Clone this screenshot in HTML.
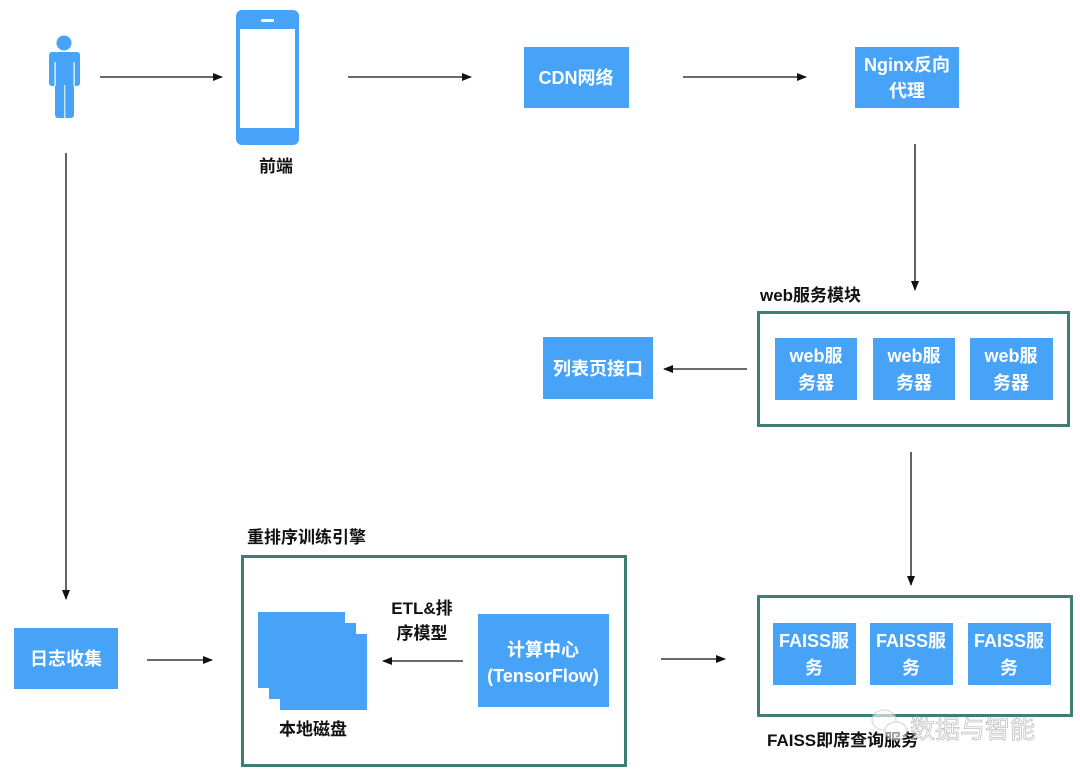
<!DOCTYPE html>
<html><head><meta charset="utf-8"><style>
html,body{margin:0;padding:0;background:#fff;}
svg{display:block;}
text{font-family:"Liberation Sans","Noto Sans CJK SC",sans-serif;font-weight:bold;}
.w{fill:#fff;font-size:18px;}
.k{fill:#111;font-size:17px;}
</style></head><body>
<svg width="1080" height="776" viewBox="0 0 1080 776" xmlns="http://www.w3.org/2000/svg">
<defs>
<marker id="a" markerWidth="10" markerHeight="8" refX="9" refY="4" orient="auto" markerUnits="userSpaceOnUse">
<path d="M0,0 L10,4 L0,8 z" fill="#111"/></marker>
</defs>
<g fill="#46a3f8">
<circle cx="64" cy="43" r="7.5"/>
<rect x="55" y="52" width="19" height="34" rx="3"/>
<rect x="55" y="60" width="19" height="58" rx="3"/>
<rect x="49" y="52" width="10" height="34" rx="3"/>
<rect x="70" y="52" width="10" height="34" rx="3"/>
<rect x="236" y="10" width="63" height="135" rx="6"/>
</g>
<rect x="240" y="29" width="55" height="99" fill="#fff"/>
<rect x="261" y="19" width="13" height="3" rx="1.5" fill="#fff"/>
<rect x="54.5" y="62" width="1.2" height="24" fill="#fff"/>
<rect x="73.5" y="62" width="1.2" height="24" fill="#fff"/>
<rect x="64.3" y="85" width="1" height="33" fill="#fff"/>
<text class="k" x="276" y="172" text-anchor="middle">前端</text>

<g stroke="#111" stroke-width="1.3" fill="none" marker-end="url(#a)">
<line x1="100" y1="77" x2="222" y2="77"/>
<line x1="348" y1="77" x2="471" y2="77"/>
<line x1="683" y1="77" x2="806" y2="77"/>
<line x1="915" y1="144" x2="915" y2="290"/>
<line x1="747" y1="369" x2="664" y2="369"/>
<line x1="911" y1="452" x2="911" y2="585"/>
<line x1="66" y1="153" x2="66" y2="599"/>
<line x1="147" y1="660" x2="212" y2="660"/>
<line x1="463" y1="661" x2="383" y2="661"/>
<line x1="661" y1="659" x2="725" y2="659"/>
</g>

<g fill="#46a3f8">
<rect x="524" y="47" width="105" height="61"/>
<rect x="855" y="47" width="104" height="61"/>
<rect x="543" y="337" width="110" height="62"/>
<rect x="775" y="338" width="82" height="62"/>
<rect x="873" y="338" width="82" height="62"/>
<rect x="970" y="338" width="83" height="62"/>
<rect x="773" y="623" width="83" height="62"/>
<rect x="870" y="623" width="83" height="62"/>
<rect x="968" y="623" width="83" height="62"/>
<rect x="14" y="628" width="104" height="61"/>
<rect x="478" y="614" width="131" height="93"/>
<rect x="280" y="634" width="87" height="76"/>
<rect x="269" y="623" width="87" height="76"/>
<rect x="258" y="612" width="87" height="76"/>
</g>
<g fill="none" stroke="#3e7e76" stroke-width="3">
<rect x="758.5" y="312.5" width="310" height="113"/>
<rect x="758.5" y="596.5" width="313" height="119"/>
<rect x="242.5" y="556.5" width="383" height="209"/>
</g>

<g text-anchor="middle">
<text class="w" x="576" y="84">CDN网络</text>
<text class="w" x="907" y="71">Nginx反向</text>
<text class="w" x="907" y="97">代理</text>
<text class="w" x="598" y="375">列表页接口</text>
<text class="w" x="816" y="362">web服</text><text class="w" x="816" y="389">务器</text>
<text class="w" x="914" y="362">web服</text><text class="w" x="914" y="389">务器</text>
<text class="w" x="1011" y="362">web服</text><text class="w" x="1011" y="389">务器</text>
<text class="w" x="814" y="647">FAISS服</text><text class="w" x="814" y="674">务</text>
<text class="w" x="911" y="647">FAISS服</text><text class="w" x="911" y="674">务</text>
<text class="w" x="1009" y="647">FAISS服</text><text class="w" x="1009" y="674">务</text>
<text class="w" x="66" y="665">日志收集</text>
<text class="w" x="543" y="656">计算中心</text>
<text class="w" x="543" y="682">(TensorFlow)</text>
</g>
<text class="k" x="760" y="301">web服务模块</text>
<text class="k" x="247" y="543">重排序训练引擎</text>
<text class="k" x="313" y="735" text-anchor="middle">本地磁盘</text>
<text class="k" x="422" y="614" text-anchor="middle">ETL&amp;排</text>
<text class="k" x="422" y="639" text-anchor="middle">序模型</text>
<text class="k" x="767" y="746">FAISS即席查询服务</text>
<g opacity="0.6">
<ellipse cx="884" cy="720" rx="12" ry="10" fill="#fff" stroke="#ccc" stroke-width="1.5"/>
<ellipse cx="896" cy="731" rx="11" ry="9" fill="#fff" stroke="#ccc" stroke-width="1.5"/>
<text x="910" y="738" style="font-weight:normal;font-size:25px;fill:#fff;stroke:#999;stroke-width:0.8">数据与智能</text>
</g>
</svg>
</body></html>
